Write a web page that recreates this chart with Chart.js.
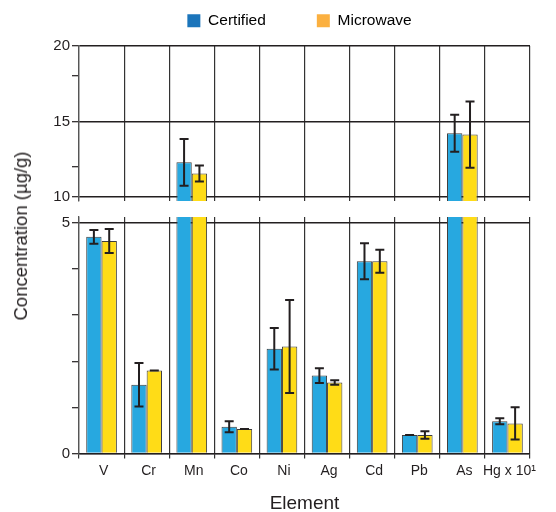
<!DOCTYPE html>
<html>
<head>
<meta charset="utf-8">
<script src="https://cdn.jsdelivr.net/npm/chart.js@4.4.1/dist/chart.umd.min.js"></script>
<style>
  html, body { margin: 0; padding: 0; background: #fff; }
  #wrap { position: relative; width: 556px; height: 512px; }
  #wrap canvas { position: absolute; left: 0; top: 0; }
  #ytitle {
    position: absolute; left: 21px; top: 236px;
    transform: translate(-50%, -50%) rotate(-90deg);
    font: 18.5px "Liberation Sans", Arial, sans-serif; color: #231f20;
    white-space: nowrap;
  }
</style>
</head>
<body>
<div id="wrap">
  <canvas id="topChart" width="556" height="512"></canvas>
  <canvas id="bottomChart" width="556" height="512"></canvas>
  <div id="ytitle">Concentration (µg/g)</div>
</div>
<script>
// values (µg/g; Hg shown x 10)
const elements = ['V', 'Cr', 'Mn', 'Co', 'Ni', 'Ag', 'Cd', 'Pb', 'As', 'Hg x 10¹'];
const certified = [4.70, 1.49, 12.29, 0.58, 2.27, 1.69, 4.17, 0.40, 14.22, 0.70];
const certifiedErr = [0.15, 0.47, 1.55, 0.12, 0.45, 0.16, 0.39, 0, 1.23, 0.065];
const microwave = [4.61, 1.80, 11.56, 0.53, 2.32, 1.54, 4.17, 0.40, 14.13, 0.65];
const microwaveErr = [0.26, 0, 0.53, 0, 1.01, 0.05, 0.25, 0.08, 2.2, 0.35];

// broken axis: upper panel 10-20, lower panel 0-5
const topTicks = [10, 11, 12, 13, 15, 17, 18, 19, 20];
const topLabels = [10, 15, 20];
const bottomTicks = [0, 1, 2, 3, 4, 5];
const bottomLabels = [0, 5];

const INK = '#231f20';
Chart.defaults.font.family = '"Liberation Sans", Arial, sans-serif';
Chart.defaults.color = INK;

const errorBars = {
  id: 'errorBars',
  afterDatasetsDraw(chart) {
    const ctx = chart.ctx, area = chart.chartArea;
    const errs = [certifiedErr, microwaveErr];
    const ys = chart.scales.y;
    ctx.save();
    ctx.beginPath();
    ctx.rect(area.left, area.top, area.right - area.left, area.bottom - area.top);
    ctx.clip();
    ctx.strokeStyle = INK;
    ctx.lineWidth = 2;
    chart.data.datasets.forEach((ds, i) => {
      const meta = chart.getDatasetMeta(i);
      meta.data.forEach((bar, j) => {
        const v = ds.data[j], e = errs[i][j];
        const hi = ys.getPixelForValue(v + e), lo = ys.getPixelForValue(v - e);
        const x = bar.x;
        ctx.beginPath();
        ctx.moveTo(x, hi); ctx.lineTo(x, lo);
        ctx.moveTo(x - 4.5, hi); ctx.lineTo(x + 4.5, hi);
        ctx.moveTo(x - 4.5, lo); ctx.lineTo(x + 4.5, lo);
        ctx.stroke();
      });
    });
    ctx.restore();
  }
};

// legend sits above a fixed-height band, nudged a bit left like the original
const legendSpacer = {
  id: 'legendSpacer',
  beforeInit(chart) {
    if (!chart.legend) return;
    const fit = chart.legend.fit;
    chart.legend.fit = function () { fit.call(this); this.height = 84; };
  },
  afterLayout(chart) {
    if (!chart.legend) return;
    chart.legend.left -= 5;
    chart.legend.right -= 5;
  }
};

function makeDatasets() {
  return [{
    label: 'Certified',
    data: certified,
    backgroundColor: '#27a8e0',
    borderColor: '#3d3d3d',
    borderWidth: 1,
    categoryPercentage: 0.68,
    barPercentage: 1,
    clip: 0
  }, {
    label: 'Microwave',
    data: microwave,
    backgroundColor: '#ffdc17',
    borderColor: '#3d3d3d',
    borderWidth: 1,
    categoryPercentage: 0.68,
    barPercentage: 1,
    clip: 0
  }];
}

function yScale(min, max, ticks, labels) {
  return {
    min: min,
    max: max,
    afterBuildTicks: s => { s.ticks = ticks.map(v => ({ value: v })); },
    afterFit: s => { s.width = 36; },
    ticks: {
      padding: 2,
      font: { size: 15 },
      color: INK,
      callback: v => labels.includes(v) ? String(v) : ''
    },
    grid: {
      color: c => labels.includes(c.tick.value) ? INK : 'rgba(0,0,0,0)',
      lineWidth: 1.4,
      tickLength: 7,
      tickColor: INK,
      tickWidth: 1.2
    },
    border: { display: true, color: '#555', width: 1.3 }
  };
}

// upper panel
new Chart(document.getElementById('topChart'), {
  type: 'bar',
  data: { labels: elements, datasets: makeDatasets() },
  options: {
    responsive: false,
    animation: false,
    layout: { padding: { left: 43, right: 26, top: -38, bottom: 311 } },
    plugins: {
      legend: {
        display: true,
        fullSize: false,
        labels: {
          boxWidth: 13,
          boxHeight: 13,
          padding: 51,
          font: { size: 15.5 },
          color: INK,
          generateLabels: () => [
            { text: 'Certified', fillStyle: '#1b75bb', strokeStyle: '#1b75bb', lineWidth: 0, datasetIndex: 0 },
            { text: 'Microwave', fillStyle: '#fbb040', strokeStyle: '#fbb040', lineWidth: 0, datasetIndex: 1 }
          ]
        }
      },
      tooltip: { enabled: false }
    },
    scales: {
      x: {
        ticks: { display: false },
        grid: { color: '#333', lineWidth: 1.2, drawTicks: false },
        border: { display: false }
      },
      y: yScale(9.73, 20, topTicks, topLabels)
    }
  },
  plugins: [legendSpacer, errorBars]
});

// lower panel
new Chart(document.getElementById('bottomChart'), {
  type: 'bar',
  data: { labels: elements, datasets: makeDatasets() },
  options: {
    responsive: false,
    animation: false,
    layout: { padding: { left: 43, right: 26, top: 217, bottom: 0 } },
    plugins: { legend: { display: false }, tooltip: { enabled: false } },
    scales: {
      x: {
        ticks: { font: { size: 14 }, color: INK, padding: 4, labelOffset: 2, autoSkip: false, maxRotation: 0 },
        grid: { color: '#333', lineWidth: 1.2, tickLength: 5, tickColor: '#333' },
        border: { display: true, color: INK, width: 1.3 },
        title: {
          display: true,
          text: 'Element',
          font: { size: 19 },
          color: INK,
          padding: { top: 9, bottom: -3 }
        }
      },
      y: yScale(0, 5.13, bottomTicks, bottomLabels)
    }
  },
  plugins: [errorBars]
});
</script>
</body>
</html>
